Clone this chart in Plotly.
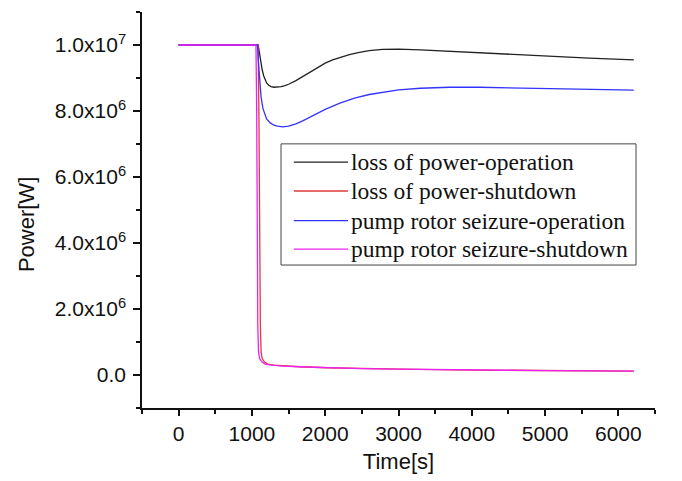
import plotly.graph_objects as go

# ---- data (time in s, power in W) ----
t_lop_op = [0, 1000, 1085, 1100, 1120, 1140, 1160, 1180, 1200, 1230, 1260, 1300, 1350, 1400, 1450, 1500,
            1600, 1700, 1800, 1900, 2000, 2100, 2200, 2330, 2450, 2600, 2780, 3000, 3300, 3700, 4100,
            4600, 5000, 5600, 6210]
p_lop_op = [1.0e7, 1.0e7, 1.0e7, 9.8e6, 9.5e6, 9.25e6, 9.07e6, 8.94e6, 8.85e6, 8.78e6, 8.74e6, 8.72e6,
            8.72e6, 8.74e6, 8.77e6, 8.81e6, 8.92e6, 9.05e6, 9.19e6, 9.33e6, 9.45e6, 9.55e6, 9.63e6,
            9.71e6, 9.77e6, 9.83e6, 9.865e6, 9.875e6, 9.855e6, 9.81e6, 9.76e6, 9.70e6, 9.65e6, 9.60e6,
            9.55e6]

t_prs_op = [0, 1000, 1075, 1085, 1100, 1124, 1150, 1175, 1200, 1250, 1300, 1350, 1420, 1500, 1600,
            1700, 1800, 1900, 2000, 2200, 2400, 2600, 2800, 3000, 3300, 3700, 4100, 4600, 5000, 5600,
            6210]
p_prs_op = [1.0e7, 1.0e7, 1.0e7, 9.6e6, 9.0e6, 8.44e6, 8.08e6, 7.88e6, 7.76e6, 7.64e6, 7.57e6, 7.54e6,
            7.52e6, 7.54e6, 7.61e6, 7.71e6, 7.82e6, 7.94e6, 8.05e6, 8.24e6, 8.39e6, 8.50e6, 8.58e6,
            8.64e6, 8.69e6, 8.72e6, 8.72e6, 8.70e6, 8.68e6, 8.65e6, 8.63e6]

t_lop_sd = [0, 1000, 1085, 1095, 1105, 1115, 1125, 1140, 1170, 1214, 1300, 1450, 1650, 2000, 2500,
            3000, 4000, 5000, 6210]
p_lop_sd = [1.0e7, 1.0e7, 1.0e7, 8.0e6, 4.0e6, 1.5e6, 7.0e5, 5.0e5, 4.0e5, 3.3e5, 3.0e5, 2.7e5, 2.5e5,
            2.2e5, 1.95e5, 1.8e5, 1.5e5, 1.32e5, 1.2e5]

t_prs_sd = [0, 1000, 1055, 1065, 1072, 1080, 1090, 1105, 1135, 1180, 1270, 1420, 1650, 2000, 2500,
            3000, 4000, 5000, 6210]
p_prs_sd = [1.0e7, 1.0e7, 1.0e7, 8.0e6, 4.0e6, 1.5e6, 7.0e5, 5.0e5, 4.0e5, 3.3e5, 3.0e5, 2.7e5, 2.5e5,
            2.2e5, 1.95e5, 1.8e5, 1.5e5, 1.32e5, 1.2e5]

series_names = ["loss of power-operation", "loss of power-shutdown",
                "pump rotor seizure-operation", "pump rotor seizure-shutdown"]
series_colors = ["#222222", "#e03a3a", "#3333ff", "#ee22ee"]

x_tick_vals = [0, 1000, 2000, 3000, 4000, 5000, 6000]
y_tick_vals = [0, 2e6, 4e6, 6e6, 8e6, 1e7]
y_tick_text = ["0.0", "2.0x10<sup>6</sup>", "4.0x10<sup>6</sup>", "6.0x10<sup>6</sup>",
               "8.0x10<sup>6</sup>", "1.0x10<sup>7</sup>"]

data = [(t_lop_op, p_lop_op), (t_lop_sd, p_lop_sd), (t_prs_op, p_prs_op), (t_prs_sd, p_prs_sd)]

fig = go.Figure()
for (tx, py), name, col in zip(data, series_names, series_colors):
    fig.add_trace(go.Scatter(x=tx, y=py, mode="lines", name=name, showlegend=False,
                             line=dict(color=col, width=1.3)))

# ---- legend box drawn as in the reference (paper coordinates) ----
leg_x0, leg_x1, leg_y0, leg_y1 = 0.271, 0.963, 0.361, 0.667
row_y = [0.621, 0.548, 0.473, 0.401]
fig.add_shape(type="rect", xref="paper", yref="paper", x0=leg_x0, x1=leg_x1, y0=leg_y0, y1=leg_y1,
              line=dict(color="#444", width=1), fillcolor="white", layer="above")
for name, col, ry in zip(series_names, series_colors, row_y):
    fig.add_shape(type="line", xref="paper", yref="paper", x0=0.296, x1=0.4016, y0=ry, y1=ry,
                  line=dict(color=col, width=1.3), layer="above")
    fig.add_annotation(xref="paper", yref="paper", x=0.404, y=ry, xanchor="left", yanchor="middle",
                       text=name, showarrow=False,
                       font=dict(family="Liberation Serif, Times New Roman, serif", size=23.5,
                                 color="#111"))

# y-axis title placed like the reference
fig.add_annotation(xref="paper", yref="paper", x=-0.226, y=0.462, xanchor="center", yanchor="middle",
                   text="Power[W]", textangle=-90, showarrow=False,
                   font=dict(family="Liberation Sans, Arial, sans-serif", size=22, color="#111"))

axis_font = dict(family="Liberation Sans, Arial, sans-serif", size=21, color="#111")
# the page body has an 8px margin, so the figure is sized/margined to compensate
fig.update_layout(
    width=674, height=473,
    margin=dict(l=134, r=27, t=4, b=73),
    paper_bgcolor="white", plot_bgcolor="white",
    font=axis_font,
    showlegend=False,
    xaxis=dict(range=[-500, 6500], tickmode="array", tickvals=x_tick_vals, automargin=False,
               ticks="outside", ticklen=6, tickwidth=1.5, tickcolor="#111",
               showline=True, linecolor="#111", linewidth=1.5, showgrid=False, zeroline=False,
               minor=dict(tickmode="linear", tick0=-500, dtick=500, ticks="outside", ticklen=4,
                          tickwidth=1.5, tickcolor="#111", showgrid=False),
               title=dict(text="Time[s]", font=dict(size=22), standoff=10),
               tickfont=axis_font),
    yaxis=dict(range=[-1e6, 1.1e7], tickmode="array", tickvals=y_tick_vals, ticktext=y_tick_text,
               automargin=False, ticklabelstandoff=3,
               ticks="outside", ticklen=7, tickwidth=1.5, tickcolor="#111",
               showline=True, linecolor="#111", linewidth=1.5, showgrid=False, zeroline=False,
               minor=dict(tickmode="linear", tick0=-1e6, dtick=1e6, ticks="outside", ticklen=4,
                          tickwidth=1.5, tickcolor="#111", showgrid=False),
               tickfont=axis_font),
)
fig.write_html("out.html")
